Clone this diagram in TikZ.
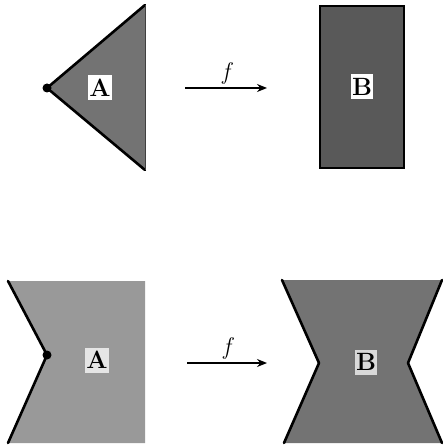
\documentclass[tikz,border=0pt]{standalone}
\usepackage{fontspec}
\setmainfont{Latin Modern Roman}
\usetikzlibrary{arrows.meta}
\begin{document}
\begin{tikzpicture}[x=1pt,y=-1pt,
  lab/.style={fill=white,inner sep=0pt,minimum width=24pt,minimum height=25pt,font=\fontsize{25}{25}\selectfont\bfseries},
  edge/.style={line width=2.6pt,line cap=round,line join=round},
  pt/.style={circle,fill=black,inner sep=0pt,minimum size=9pt},
  map/.style={line width=1.4pt,-{Stealth[length=10pt,width=8pt]}},
  flab/.style={font=\fontsize{24}{24}\selectfont\itshape}]
\useasboundingbox (0,0) rectangle (442,446);
% top-left triangle
\fill[black!55] (47,88) -- (145,5) -- (145,170) -- cycle;
\draw[edge] (145,5) -- (47,88) -- (145,170);
\draw[line width=1pt,black!75] (145,5) -- (145,170);
\node[pt] (pa) at (47,88) {};
\node[lab] (A1) at (100,88) {A};
% top-right rectangle
\fill[black!65] (320,6) rectangle (404,168);
\draw[line width=2.2pt] (320,6) rectangle (404,168);
\node[lab,minimum width=22pt] (B1) at (362,87) {B};
% top arrow
\coordinate (s1) at (185,88);
\coordinate (e1) at (267,88);
\draw[map] (s1) -- node[flab,above=0pt] (f1) {f} (e1);
% bottom-left region
\fill[black!40] (8,281) -- (47,355) -- (8,443) -- (145,443) -- (145,281) -- cycle;
\draw[edge] (8,281) -- (47,355) -- (8,443);
\node[pt] (pb) at (47,355) {};
\node[lab,fill=black!10] (A2) at (97,360) {A};
% bottom-right hourglass
\fill[black!55] (282,280) -- (442,280) -- (408,363) -- (442,443) -- (284,443) -- (319,363) -- cycle;
\draw[edge] (282,280) -- (319,363) -- (284,443);
\draw[edge] (442,280) -- (408,363) -- (442,443);
\node[lab,fill=black!15,minimum width=22pt] (B2) at (366,362) {B};
% bottom arrow
\coordinate (s2) at (187,363);
\coordinate (e2) at (267,363);
\draw[map] (s2) -- node[flab,above=0pt] (f2) {f} (e2);
\end{tikzpicture}
\end{document}
